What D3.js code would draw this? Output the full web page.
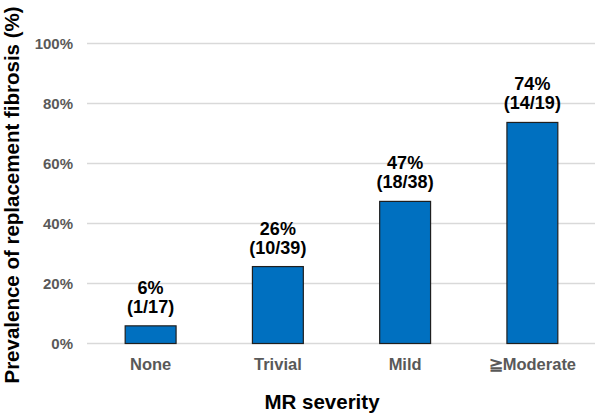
<!DOCTYPE html>
<html>
<head>
<meta charset="utf-8">
<script src="https://cdn.jsdelivr.net/npm/d3@7"></script>
<style>
  html, body { margin: 0; padding: 0; background: #fff; }
  svg { display: block; font-family: "Liberation Sans", Arial, sans-serif; }
</style>
</head>
<body>
<svg id="chart" width="595" height="414"></svg>
<script>
// MR severity groups and replacement fibrosis counts
const categories = ["None", "Trivial", "Mild", "\u2267Moderate"];
const positives = [1, 10, 18, 14];
const totals = [17, 39, 38, 19];
const yTicks = [0, 20, 40, 60, 80, 100];

const rows = categories.map((c, i) => ({
  cat: c,
  n: positives[i],
  total: totals[i],
  pct: positives[i] / totals[i] * 100
}));

const svg = d3.select("#chart");
const margin = { left: 87, right: 0, top: 43.5, bottom: 70.5 };
const W = 595, H = 414;

const x = d3.scaleBand()
  .domain(categories)
  .range([margin.left, 596])
  .paddingInner(0.6)
  .paddingOuter(0.3);

const y = d3.scaleLinear()
  .domain([0, 100])
  .range([H - margin.bottom, margin.top]);

// horizontal gridlines
svg.append("g")
  .selectAll("line")
  .data(yTicks)
  .join("line")
  .attr("x1", margin.left)
  .attr("x2", W)
  .attr("y1", d => y(d))
  .attr("y2", d => y(d))
  .attr("stroke", "#d9d9d9")
  .attr("stroke-width", 1.5);

// y tick labels
const yAxis = d3.axisLeft(y).tickValues(yTicks).tickFormat(d => d + "%").tickSize(0).tickPadding(0);
const gy = svg.append("g")
  .attr("transform", `translate(${margin.left - 14},0)`)
  .call(yAxis);
gy.select(".domain").remove();
gy.selectAll("text")
  .attr("fill", "#595959")
  .attr("font-size", 15)
  .attr("font-weight", "bold")
  .attr("font-family", "Liberation Sans, Arial, sans-serif");

// bars
svg.append("g")
  .selectAll("rect")
  .data(rows)
  .join("rect")
  .attr("x", d => x(d.cat))
  .attr("width", x.bandwidth())
  .attr("y", d => y(d.pct))
  .attr("height", d => y(0) - y(d.pct))
  .attr("fill", "#0070c0")
  .attr("stroke", "#1f1f1f")
  .attr("stroke-width", 1.2);

// value labels above bars
const lab = svg.append("g")
  .selectAll("text")
  .data(rows)
  .join("text")
  .attr("text-anchor", "middle")
  .attr("font-size", 18)
  .attr("font-weight", "bold")
  .attr("fill", "#000");
lab.append("tspan")
  .attr("x", d => x(d.cat) + x.bandwidth() / 2)
  .attr("y", d => y(d.pct) - 32)
  .text(d => Math.round(d.pct) + "%");
lab.append("tspan")
  .attr("x", d => x(d.cat) + x.bandwidth() / 2)
  .attr("y", d => y(d.pct) - 13)
  .text(d => `(${d.n}/${d.total})`);

// x tick labels
const xAxis = d3.axisBottom(x).tickSize(0).tickPadding(0);
const gx = svg.append("g")
  .attr("transform", `translate(0,${y(0) + 15})`)
  .call(xAxis);
gx.select(".domain").remove();
gx.selectAll("text")
  .attr("fill", "#595959")
  .attr("font-size", 16.5)
  .attr("font-weight", "bold")
  .attr("font-family", "Liberation Sans, Arial, sans-serif");

// axis titles
svg.append("text")
  .attr("x", 322)
  .attr("y", 409)
  .attr("text-anchor", "middle")
  .attr("font-size", 20.5)
  .attr("font-weight", "bold")
  .text("MR severity");

svg.append("text")
  .attr("transform", "translate(19,195) rotate(-90)")
  .attr("text-anchor", "middle")
  .attr("font-size", 20.5)
  .attr("font-weight", "bold")
  .text("Prevalence of replacement fibrosis (%)");
</script>
</body>
</html>
